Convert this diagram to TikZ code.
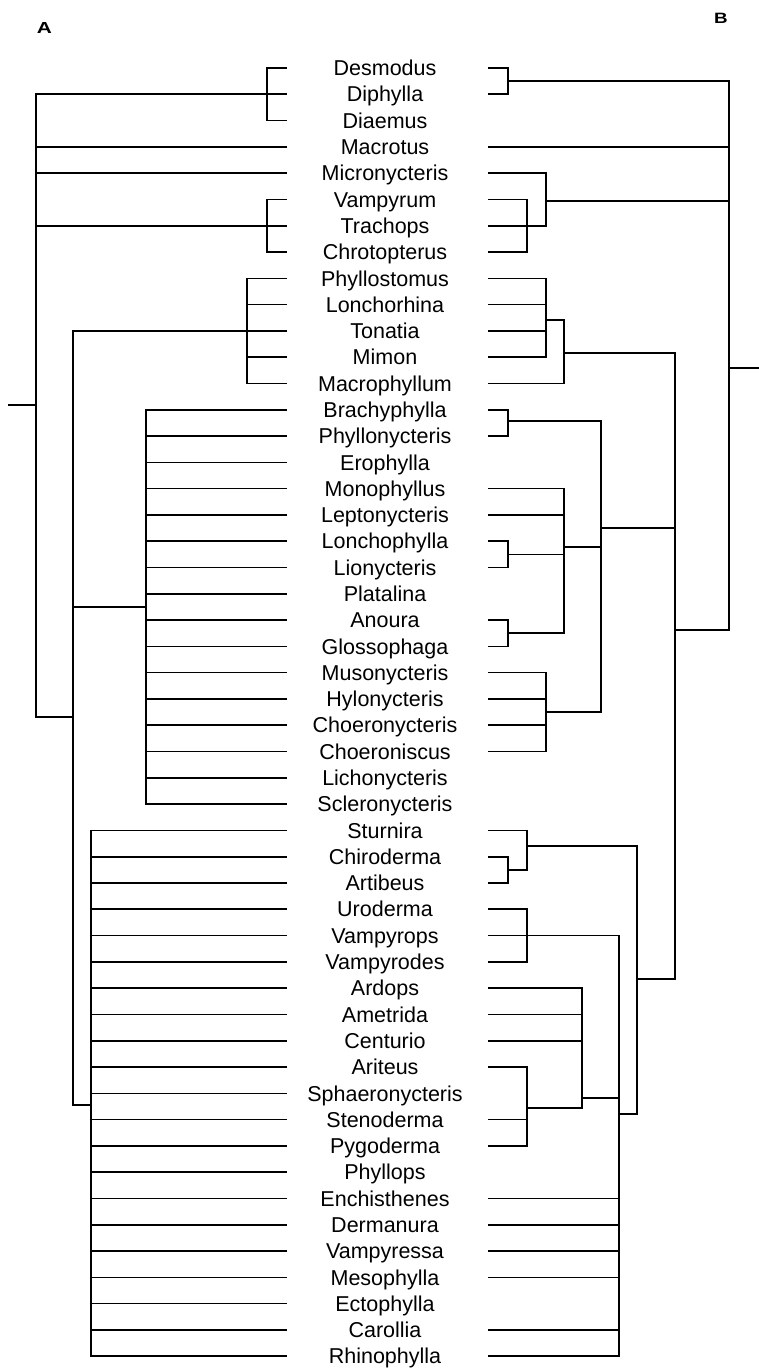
\documentclass[tikz,border=0pt]{standalone}
\usepackage{fontspec}
\usepackage{graphicx}
\setmainfont{Liberation Sans}
\begin{document}
\begin{tikzpicture}[x=1pt,y=-1pt,
  lab/.style={inner sep=0pt,anchor=center,text height=15.4pt,text depth=0pt,font=\fontsize{21.5}{24}\selectfont},
  panel/.style={inner sep=0pt,font=\fontsize{16}{16}\selectfont\bfseries},
  br/.style={line width=1.6pt,line cap=rect,line join=miter}]
\useasboundingbox (0,0) rectangle (759,1370);
% labels
\foreach \n [count=\i from 0] in {Desmodus,Diphylla,Diaemus,Macrotus,Micronycteris,Vampyrum,Trachops,Chrotopterus,Phyllostomus,Lonchorhina,Tonatia,Mimon,Macrophyllum,Brachyphylla,Phyllonycteris,Erophylla,Monophyllus,Leptonycteris,Lonchophylla,Lionycteris,Platalina,Anoura,Glossophaga,Musonycteris,Hylonycteris,Choeronycteris,Choeroniscus,Lichonycteris,Scleronycteris,Sturnira,Chiroderma,Artibeus,Uroderma,Vampyrops,Vampyrodes,Ardops,Ametrida,Centurio,Ariteus,Sphaeronycteris,Stenoderma,Pygoderma,Phyllops,Enchisthenes,Dermanura,Vampyressa,Mesophylla,Ectophylla,Carollia,Rhinophylla}
  {\node[lab] (t\i) at (385,{68+26.29*\i}) {\n};}
\node[panel] (pA) at (44.5,27.5) {\scalebox{1.3}[1]{A}};
\node[panel,font=\fontsize{15}{15}\selectfont\bfseries] (pB) at (721,18.5) {\scalebox{1.25}[1]{B}};
% x levels
\coordinate (aS) at (9,0);  \coordinate (a0) at (36,0); \coordinate (a1) at (73,0);
\coordinate (a2) at (91,0); \coordinate (a3) at (146,0); \coordinate (a4) at (247,0);
\coordinate (a5) at (267,0); \coordinate (aL) at (286,0);
\coordinate (bL) at (489,0); \coordinate (bx1) at (508,0); \coordinate (bx2) at (527,0);
\coordinate (bx3) at (546,0); \coordinate (bx4) at (564,0); \coordinate (bx5) at (582,0);
\coordinate (bx6) at (601,0); \coordinate (bx7) at (619,0); \coordinate (bx8) at (637,0);
\coordinate (bx9) at (675,0); \coordinate (bx10) at (729,0); \coordinate (bE) at (760,0);
% internal nodes, tree A
\coordinate (Aroot) at (36,405);
\coordinate (Aj) at (36,717);
\coordinate (As) at (91,1105);
\coordinate (Ag) at (146,607);
% internal nodes, tree B
\coordinate (Broot) at (729,368);
\coordinate (Bj) at (729,630);
\coordinate (B1) at (508,81);
\coordinate (B3) at (546,201);
\coordinate (B4) at (546,320);
\coordinate (B5) at (564,353);
\coordinate (B6) at (508,421);
\coordinate (B7) at (508,{68+26.29*18.5});
\coordinate (B8) at (508,{68+26.29*21.5});
\coordinate (B9) at (564,547);
\coordinate (B10) at (546,712);
\coordinate (B11) at (601,528);
\coordinate (B14) at (508,{68+26.29*30.5});
\coordinate (B15) at (527,846);
\coordinate (B17) at (527,1108);
\coordinate (B18) at (582,1098);
\coordinate (B19) at (619,1114);
\coordinate (B20) at (637,979);
% ---------------- tree A ----------------
\draw[br] (aS |- Aroot) -- (Aroot);
\draw[br] (t1 -| a0) -- (Aj) -- (Aj -| a1);
\draw[br] (t1 -| a0) -- (t1 -| aL);
\draw[br] (t0 -| aL) -| (t2 -| a5) -- (t2 -| aL);
\draw[br] (t3 -| a0) -- (t3 -| aL);
\draw[br] (t4 -| a0) -- (t4 -| aL);
\draw[br] (t6 -| a0) -- (t6 -| aL);
\draw[br] (t5 -| aL) -| (t7 -| a5) -- (t7 -| aL);
\draw[br] (t10 -| aL) -- (t10 -| a1) -- (As -| a1) -- (As);
\draw[br] (t8 -| aL) -| (t12 -| a4) -- (t12 -| aL);
\foreach \k in {9,11} {\draw[br] (t\k -| a4) -- (t\k -| aL);}
\draw[br] (Ag -| a1) -- (Ag);
\draw[br] (t13 -| aL) -| (t28 -| a3) -- (t28 -| aL);
\foreach \k in {14,...,27} {\draw[br] (t\k -| a3) -- (t\k -| aL);}
\draw[br] (t29 -| aL) -| (t49 -| a2) -- (t49 -| aL);
\foreach \k in {30,...,48} {\draw[br] (t\k -| a2) -- (t\k -| aL);}
% ---------------- tree B ----------------
\draw[br] (Broot) -- (Broot -| bE);
\draw[br] (t0 -| bL) -| (t1 -| bx1) -- (t1 -| bL);
\draw[br] (B1) -| (Bj) -- (Bj -| bx9);
\draw[br] (t3 -| bL) -- (t3 -| bx10);
\draw[br] (t5 -| bL) -| (t7 -| bx2) -- (t7 -| bL);
\draw[br] (t4 -| bL) -| (t6 -| bx3) -- (t6 -| bL);
\draw[br] (B3) -- (B3 -| bx10);
\draw[br] (t8 -| bL) -| (t11 -| bx3) -- (t11 -| bL);
\foreach \k in {9,10} {\draw[br] (t\k -| bL) -- (t\k -| bx3);}
\draw[br] (B4) -| (t12 -| bx4) -- (t12 -| bL);
\draw[br] (B5) -| (B20 -| bx9) -- (B20);
% glossophagines
\draw[br] (t13 -| bL) -| (t14 -| bx1) -- (t14 -| bL);
\draw[br] (B6) -| (B10 -| bx6) -- (B10);
\draw[br] (B11) -- (B11 -| bx9);
\draw[br] (t16 -| bL) -| (B8 -| bx4) -- (B8);
\draw[br] (t17 -| bL) -- (t17 -| bx4);
\draw[br] (t18 -| bL) -| (t19 -| bx1) -- (t19 -| bL);
\draw[br] (B7) -- (B7 -| bx4);
\draw[br] (t21 -| bL) -| (t22 -| bx1) -- (t22 -| bL);
\draw[br] (B9) -- (B9 -| bx6);
\draw[br] (t23 -| bL) -| (t26 -| bx3) -- (t26 -| bL);
\foreach \k in {24,25} {\draw[br] (t\k -| bL) -- (t\k -| bx3);}
% stenodermatines
\draw[br] (t30 -| bL) -| (t31 -| bx1) -- (t31 -| bL);
\draw[br] (t29 -| bL) -| (B14 -| bx2) -- (B14);
\draw[br] (B15) -| (B19 -| bx8) -- (B19);
\draw[br] (t32 -| bL) -| (t34 -| bx2) -- (t34 -| bL);
\draw[br] (t33 -| bL) -| (t49 -| bx7) -- (t49 -| bL);
\foreach \k in {43,44,45,46,48} {\draw[br] (t\k -| bL) -- (t\k -| bx7);}
\draw[br] (B18) -- (B18 -| bx7);
\draw[br] (t35 -| bL) -| (B17 -| bx5) -- (B17);
\foreach \k in {36,37} {\draw[br] (t\k -| bL) -- (t\k -| bx5);}
\draw[br] (t38 -| bL) -| (t41 -| bx2) -- (t41 -| bL);
\draw[br] (t40 -| bL) -- (t40 -| bx2);
\end{tikzpicture}
\end{document}
